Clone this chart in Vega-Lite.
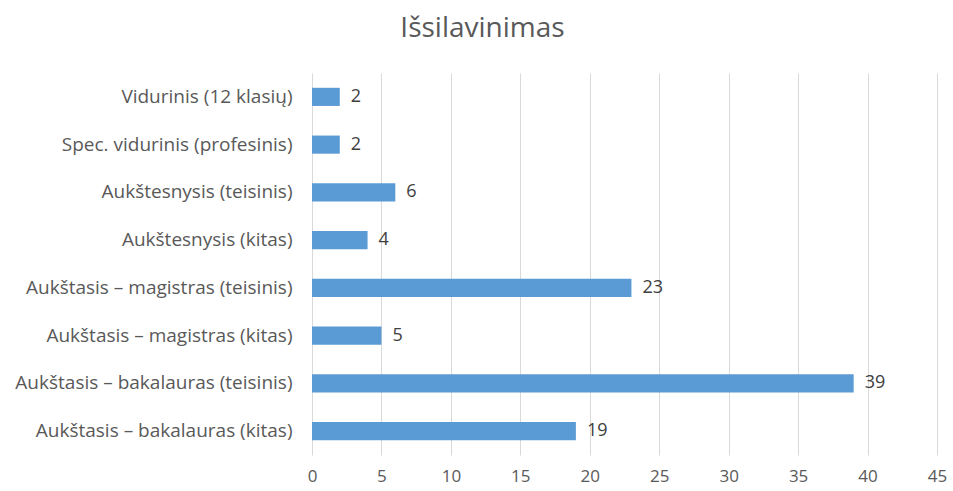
{
  "$schema": "https://vega.github.io/schema/vega-lite/v6.json",
  "autosize": "none",
  "width": 625,
  "height": 382,
  "padding": {"left": 312, "top": 73, "right": 16, "bottom": 36},
  "background": "white",
  "title": {
    "text": "Išsilavinimas",
    "font": "Open Sans",
    "fontSize": 28,
    "fontWeight": "normal",
    "color": "#595959",
    "anchor": "middle",
    "dx": -142,
    "offset": 30
  },
  "data": {
    "values": [
      {"category": "Vidurinis (12 klasių)", "value": 2},
      {"category": "Spec. vidurinis (profesinis)", "value": 2},
      {"category": "Aukštesnysis (teisinis)", "value": 6},
      {"category": "Aukštesnysis (kitas)", "value": 4},
      {"category": "Aukštasis – magistras (teisinis)", "value": 23},
      {"category": "Aukštasis – magistras (kitas)", "value": 5},
      {"category": "Aukštasis – bakalauras (teisinis)", "value": 39},
      {"category": "Aukštasis – bakalauras (kitas)", "value": 19}
    ]
  },
  "encoding": {
    "y": {
      "field": "category",
      "type": "nominal",
      "sort": null,
      "title": null,
      "scale": {"paddingInner": 0.62, "paddingOuter": 0.31},
      "axis": {
        "domain": false,
        "ticks": false,
        "labelFont": "Open Sans",
        "labelFontSize": 19,
        "labelColor": "#595959",
        "labelPadding": 20,
        "labelLimit": 400
      }
    },
    "x": {
      "field": "value",
      "type": "quantitative",
      "title": null,
      "scale": {"domain": [0, 45], "nice": false},
      "axis": {
        "values": [0, 5, 10, 15, 20, 25, 30, 35, 40, 45],
        "domain": false,
        "ticks": false,
        "grid": true,
        "gridColor": "#d9d9d9",
        "gridWidth": 1,
        "labelFont": "Open Sans",
        "labelFontSize": 17,
        "labelColor": "#595959",
        "labelPadding": 13,
        "labelFlush": false
      }
    }
  },
  "layer": [
    {"mark": {"type": "bar", "color": "#5b9bd5"}},
    {
      "mark": {"type": "text", "align": "left", "baseline": "middle", "dx": 11, "font": "Open Sans", "fontSize": 18, "color": "#404040"},
      "encoding": {"text": {"field": "value", "type": "quantitative"}}
    }
  ],
  "config": {"view": {"stroke": null}}
}
